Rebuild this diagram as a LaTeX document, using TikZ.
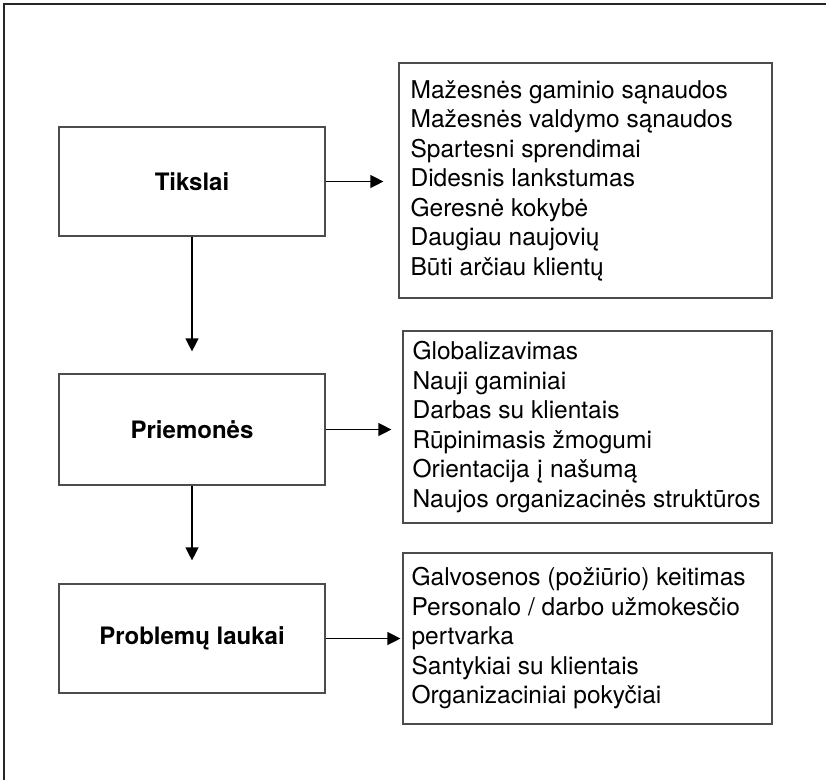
\documentclass[tikz,border=0pt]{standalone}
\usepackage{fontspec}
\setmainfont{TeX Gyre Heros}
\usetikzlibrary{arrows.meta,calc}
\definecolor{edgegray}{gray}{0.3}
\definecolor{framegray}{gray}{0.15}
\begin{document}
\begin{tikzpicture}[x=1pt,y=-1pt,
  stage/.style={draw=edgegray,line width=1.2pt,minimum width=266pt,inner sep=0pt,
    font=\fontsize{24}{28}\selectfont\bfseries},
  listbox/.style={draw=edgegray,line width=1.2pt,inner sep=0pt},
  listtext/.style={inner sep=0pt,align=left,font=\fontsize{24.5}{29.5}\selectfont},
  flow/.style={draw=black,line width=1.3pt,-{Triangle[length=13pt,width=13pt]}}]
\useasboundingbox (0,0) rectangle (826,780);

% outer frame: top and left edges only
\draw[framegray,line width=1.5pt] (4,780) -- (4,4) -- (826,4);

% left column: the three stages
\node[stage,minimum height=109pt] (goals) at (192,181.5) {Tikslai};
\node[stage,minimum height=111pt] (means) at (192,429.5) {Priemonės};
\node[stage,minimum height=109pt] (issues) at (192,638.5) {Problemų laukai};

% right column: lists
\node[listbox,minimum width=373pt,minimum height=235pt] (goalsbox) at (585.5,180.5) {};
\node[listtext,anchor=west] (goalslist) at ([xshift=12pt]goalsbox.west) {%
  Mažesnės gaminio sąnaudos\\
  Mažesnės valdymo sąnaudos\\
  Spartesni sprendimai\\
  Didesnis lankstumas\\
  Geresnė kokybė\\
  Daugiau naujovių\\
  Būti arčiau klientų};

\node[listbox,minimum width=369pt,minimum height=192pt] (meansbox) at (587.5,427) {};
\node[listtext,anchor=west] (meanslist) at ([xshift=10pt]meansbox.west) {%
  Globalizavimas\\
  Nauji gaminiai\\
  Darbas su klientais\\
  Rūpinimasis žmogumi\\
  Orientacija į našumą\\
  Naujos organizacinės struktūros};

\node[listbox,minimum width=369pt,minimum height=171pt] (issuesbox) at (587.5,638.5) {};
\node[listtext,anchor=west] (issueslist) at ([xshift=9pt]issuesbox.west) {%
  Galvosenos (požiūrio) keitimas\\
  Personalo / darbo užmokesčio\\
  pertvarka\\
  Santykiai su klientais\\
  Organizaciniai pokyčiai};

% connectors
\draw[flow,shorten >=15pt] (goals.east) -- (goals.east -| goalsbox.west);
\draw[flow,shorten >=11pt] (means.east) -- (means.east -| meansbox.west);
\draw[flow,shorten >=2pt] (issues.east) -- (issues.east -| issuesbox.west);
\draw[flow,shorten >=22pt] (goals.south) -- (means.north);
\draw[flow,shorten >=23pt] (means.south) -- (issues.north);
\end{tikzpicture}
\end{document}
